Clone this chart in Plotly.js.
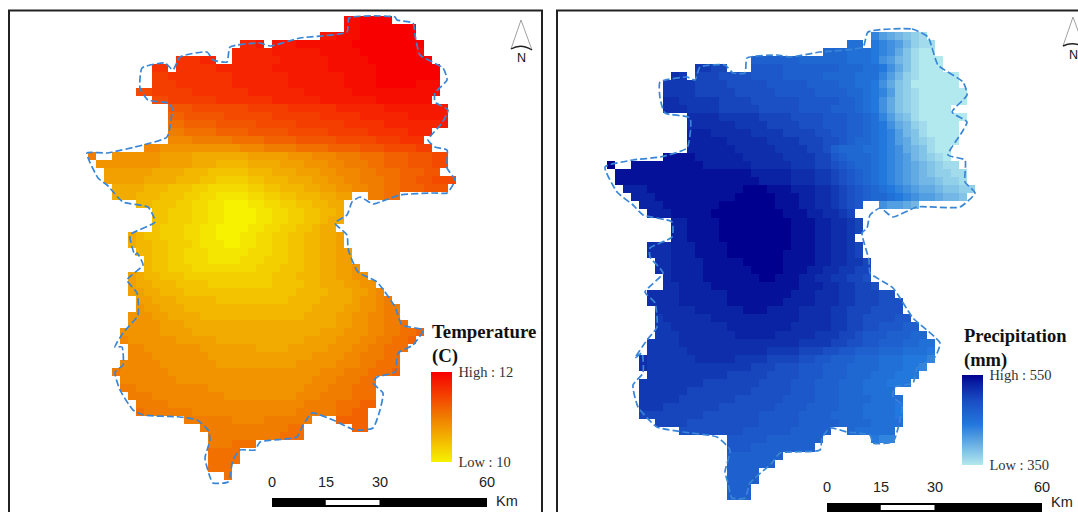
<!DOCTYPE html>
<html><head><meta charset="utf-8">
<script src="https://cdn.plot.ly/plotly-3.0.1.min.js"></script>
<style>html,body{margin:0;padding:0;background:#fff}#c{width:1078px;height:512px}</style>
</head><body><div id="c"></div>
<script>
// Raster cells: letter a..u = level 0..20 ; '.' = no data. Each row begins at column rowStart.
const tempStart=[32,32,29,19,18,11,8,8,8,6,8,10,10,10,10,10,7,0,1,2,2,3,3,6,8,8,8,5,5,6,7,7,5,5,5,6,6,5,5,4,4,5,5,4,3,4,4,5,6,6,12,14,15,15,15,15,15,17];
const tempRows=[
"ttuuuu","ttuuuuuuu","sstttuuuuuuu","rrs.ssstttttttuuuuuuuuu","rrrrrsssssstttttuuuuuuut",
"qqqrr..rrrrrrsssssstttttuuuuuuuu","qq.qqqqqrrrrrrrsssssssttttttuuuuuuuu","ppqqqqqqqqrrrrrrrsssssssttttuuuuuuuu","pppqqqqqqqrrrrrrrsssssssttttuuuuuttt","oopppppqqqqqqqrrrrrrrssssssttttttttttt",
"ooppppppqqqqqqqrrrrrrsssssssttttttt","nnnooooooopppppqqqqqqrrrrrrssssssss","mmnnnnnooooooppppppqqqqqrrrrrrsssss","llmmmmnnnnnoooooppppppqqqqqrrrrrrrs","kkllllmmmmnnnnnooooopppppqqqqqrrr",
"jjjkkkkkllllmmmmnnnnnooooopppqqq","jjiiiiiiiiiijjjkkkkllllmmmmnnnoooopp","k..iiiiiihhhhggggggghhhhhiiijjjkkklllmmmnnnoo","iiiiiiiihhhhgggffffgggghhhiiijjkkkllmmmnnnoo","hhhhhhggggfffeeeeefffggghhhiijjjkklllmmmnn",
"hhhhhggggfffeeddddeefffggghhiijjkkkllmmnnooo","ggggfffeeeddcccccddeefffgghhiijjkkllmmmnnn","gggfffeeeddccbbbbccddeefffgghh..kkll","ffeeeddccbbaaabbccddeeffgg","eedddccbbaaaabbccddeeffg",
"eedddccbbaaaabbccddeefgg","edddccbbaaaabbccddeefgg","gfeedddccbbaaabbccddeeffggh","gffeedddcbbbaabbccddeeffggh","ffeeddcccbbbbbcccddeeffgghh",
"feeddcccbbbbcccdddeeffgghh","feedddccccccccdddeeeffgghhi","hgffeeedddddddddddeeefffgghhii","hggfffeeeeddddddddeeeeffggghhii","hhggfffeeeeeeeeeeeeeeffffggghhij",
"hhgggfffffeeeeeeeeeffffgggghiijk","ihhgggffffffffffffffffgggghhiijkk","iiihhggggfffffffffffffgggghhiijjkk","iiiihhhggggggggggggggggggghhiijjkkl","iiiiihhhhgggggggggggggggghhhiiijjkkllm",
"jiiiiiihhhhhggggggggggghhhhiiijjkkllm","jjiiiiiiihhhhhhhgggghhhhhiiijjkklll","jjjiiiiiiihhhhhhhhhhhhhiiiijjkkkll","jjjjjiiiiiiihhhhhhhhhhiiiiijjjkklll","kjjjjjjiiiiiiiiiiiiiiiiiiijjjkkklllm",
"jjjjjjjiiiiiiiiiiiiiiiiijjjkkkll","kkjjjjjjjjjiiiiiiiiiiiijjjkkklll","kkkjjjjjjjjjiiiiiiiiijjjkkkklll","kkkkjjjjjjjjjjjjjjjjjkkkklllmm","lkkkkkkjjjjjjjjjjjjjkkkkkllmm",
"kkkkkkjjjjkkkkkk...mmmm","kkkkkkkkkkkll......mm","kkkkkkkkklll","kkklll","llll","llll","lll","l"];
const tempLevels={base:10,step:0.1};

const precStart=[33,30,27,18,11,8,7,7,7,7,10,10,10,10,10,7,0,1,1,2,3,4,5,8,8,8,5,5,6,6,7,7,5,5,6,6,6,6,5,5,4,4,5,4,4,4,4,4,6,9,15,15,15,15,15,15,15,15];
const precRows=[
"igfedcb","kk.jihgecbb","lllkkkjihfdbaa","mmmmmmllllllkkkjhgedbaaa","qqpp...nnnnmmmmmmmlllkkjhfdbaaa",
"rq.pppoooonnnnmmmmmllllkkkigecbaaaaa","qqqqppppooooonnnnnmmmmllkkjhfdcaaaaaa","qqqqpppppooooonnnnnmmmmllkjigdcbaaaaaa","rrqqqqqppppoooooonnnnnmmlkjhfdcbaaaaaa","rrrqqqqpppppooooonnnnmmmlkjhfdcbaaaa",
"rrrrqqqqqppppoooonnnmmlkigedbaaaaaa","rrrrrrqqqqppppooonnnmmlkjhfecbaaaa","sssrrrrrqqqqppppoonnmmlkjigedbaaaa","sssssrrrrrqqqqpppoonmllkjigfdcbaaa","ssssssrrrrrqqqqppomlllkkjihfedbaa",
"ttttssssssrrrrrqqqqppnmlllkjihgedcba","u..tttttttttssssssrrrrrqqqpponmllkjihgfedcbb","tttttttttttttttttsssssrrrqqponmlkjihgfedccbb","ttttttttttttttttttssssrrrqqponmlkjihgfeedccb","sssttttttttttttuuutttsssrrqponmlkjihgffeddcc",
"sssttttttttttuuuuutttssrrqponmllkjihggfeed","ssstttttttuuuuuuutttssrrqpon..hggfe","ssstttttuuuuuuuuutttssrrqp","ssttttuuuuuuuuutttssrrqp","ssttttuuuuuuuuutttssrrqp",
"ssttttuuuuuuuuutttssrrq","rrrsssttttuuuuuuuutttssrrqp","rrrsssttttuuuuuuuttttssrrqp","rrsssstttttuuuuuttttssrrqqp","rrssssttttttuuuutttssrrqqpp",
"rsssstttttttuutttssrrqqppo","rrsssstttttttttttsssrrqqppo","rrrrssssssttttttttsssrrrqqpppoo","rrrrsssssstttttttssssrrrqqpppooo","rrrrrsssssstttssssrrrrqqpppoooo",
"qrrrrrrsssssssssssrrrrqqppoooonn","qqrrrrrrrssssssssrrrrrqqppoonnnmm","qqqrrrrrrrsssssrrrrrqqqpponnnmmmll","qqqqrrrrrrrrrrrrrrrqqqqppoonnmmmllkk","qqqqqrrrrrrrrrrqqqqpppoonnmmmlllkkkj",
"rqqqqqqrrrrrqqqqppppoonnmmmlllkkkjjji","rqqqqqqqqqqqqqpppooonnnmmmllllkkkjji","qqqqqqqqqqpppppoooonnnmmmlllkkkjjj","qqqqqqqqpppppppoooonnnmmmlllkkkjjj","qqqqqqppppppppooooonnnmmmlllkkkk",
"qqqqqpppppppoooooonnnnmmmllllkkkk","qqqpppppppooooooonnnnmmmmlllkkkkj","ppppppppooooooonnnnnmmmmllllkkkkj","ppppooooooooonnnnnmmmmmllllkkkk","oooooooonnnnnnmmmmm..lkkkkk",
"nnnnnmmmmmmm......jii","nnnmmmmmmmm","mmmmmmm","mmmmmm","mmmm","mmmm","mmm","mmm"];
const precLevels={base:350,step:10};

const outlineTempX=[349,395,397,413,415,420,443,447,435,435,448,442,428,435,447,447,455,447,433,400,380,373,360,352,347,335,347,348,350,358,377,395,402,423,413,398,395,377,373,383,380,373,355,333,312,302,297,260,255,240,233,228,213,210,205,210,208,197,180,143,133,120,115,123,122,115,123,138,137,127,143,137,135,130,155,148,123,107,98,87,107,143,167,172,168,148,140,142,165,173,180,207,213,227,230,260,270,300,347,349];
const outlineTempY=[18,17,20,23,35,55,68,80,93,102,110,123,140,147,150,168,180,193,193,195,202,204,197,202,215,223,235,248,255,272,282,307,325,330,345,353,372,377,383,393,410,428,430,420,413,427,437,442,450,450,460,482,483,477,458,440,430,420,417,415,410,390,372,365,347,347,333,315,293,280,265,253,255,235,222,207,202,185,178,153,153,145,137,108,103,100,88,68,63,70,57,52,60,62,47,43,46,38,32,18];
const outlinePrecX=[868,912,928,938,963,967,952,967,962,948,965,965,975,960,917,893,880,870,867,862,869,870,893,913,940,935,917,913,895,893,902,897,893,873,870,847,830,822,820,780,772,750,745,732,728,725,730,717,683,657,638,633,643,642,635,647,657,655,645,663,650,650,672,672,643,633,617,605,633,660,687,690,665,660,660,687,695,700,725,733,745,747,777,790,820,863,868];
const outlinePrecY=[32,29,37,65,82,95,112,122,132,155,160,182,193,207,207,217,208,215,228,233,260,273,288,318,343,357,368,383,387,397,405,432,442,443,435,432,428,438,450,453,463,483,498,498,483,472,450,437,432,427,407,385,373,353,358,340,327,303,292,273,257,248,237,222,215,205,192,167,160,157,148,118,113,98,82,77,80,67,65,73,73,58,55,57,52,47,32];

const tempTitle="Temperature<br>(C)", precTitle="Precipitation<br>(mm)";
const tempBarLabels=["Low : 10","High : 12"], precBarLabels=["Low : 350","High : 550"];
const scaleLabels=["0","15","30","60"], scaleKm=[0,15,30,60];

function decode(rows,starts,lv){
  const nc=46;
  return rows.map((r,i)=>{
    const a=new Array(nc).fill(null);
    for(let k=0;k<r.length;k++){const ch=r[k];if(ch!=='.'){const c=starts[i]+k;if(c<nc)a[c]=lv.base+lv.step*(ch.charCodeAt(0)-97);}}
    return a;
  });
}
const serif="Liberation Serif", sans="Liberation Sans";
function bar(x,top,len,thick){return {thicknessmode:'pixels',thickness:thick,lenmode:'pixels',len:len,x:x/1078,xanchor:'left',y:1-top/512,yanchor:'top',xpad:0,ypad:0,outlinewidth:0,ticks:'outside',ticklen:4,tickwidth:1,tickcolor:'rgba(0,0,0,0)',tickfont:{family:serif,size:14.5,color:'#333'}};}

const traces=[
 {type:'heatmap',z:decode(tempRows,tempStart,tempLevels),x0:92,dx:8,y0:20,dy:8,zmin:10,zmax:12,
  colorscale:[[0,'#f6f200'],[0.5,'#f07c00'],[1,'#f80000']],hoverongaps:false,
  colorbar:Object.assign(bar(431,372,90,21),{tickvals:[10,12],ticktext:tempBarLabels})},
 {type:'heatmap',z:decode(precRows,precStart,precLevels),x0:611,dx:8,y0:36,dy:8.07,zmin:350,zmax:550,
  colorscale:[[0,'#b2e9ee'],[0.45,'#2278dc'],[0.7,'#1a50c4'],[0.9,'#0a22a4'],[1,'#00008e']],hoverongaps:false,
  colorbar:Object.assign(bar(962,375,90,21),{tickvals:[350,550],ticktext:precBarLabels})},
 {type:'scatter',mode:'lines',x:outlineTempX,y:outlineTempY,line:{color:'#3a86d6',width:1.7,dash:'7px,3px',shape:'spline',smoothing:0.5},showlegend:false,hoverinfo:'skip'},
 {type:'scatter',mode:'lines',x:outlinePrecX,y:outlinePrecY,line:{color:'#3a86d6',width:1.7,dash:'7px,3px',shape:'spline',smoothing:0.5},showlegend:false,hoverinfo:'skip'}
];
function scaleShapes(x0,y0,y1,pxPerKm){
  const f=k=>x0+k*pxPerKm;
  return [
   {type:'rect',x0:f(0),x1:f(60),y0:y0,y1:y1,fillcolor:'#000',line:{width:0},layer:'above'},
   {type:'rect',x0:f(15),x1:f(30),y0:y0+2,y1:y1-2,fillcolor:'#fff',line:{width:0},layer:'above'}];
}
function scaleText(x0,y,pxPerKm,kmX,kmY){
  const out=scaleKm.map((k,i)=>({x:x0+k*pxPerKm,y:y,text:scaleLabels[i],showarrow:false,xanchor:'center',yanchor:'middle',font:{family:sans,size:14.5,color:'#222'}}));
  out.push({x:kmX,y:kmY,text:'Km',showarrow:false,xanchor:'left',yanchor:'middle',font:{family:sans,size:14.5,color:'#222'}});
  return out;
}
function arrow(ax,ay,lx,ly,rx,ry,mx,my){
  return [{type:'path',path:`M ${lx} ${ly} L ${ax} ${ay} L ${rx} ${ry}`,line:{color:'#888',width:0.8},layer:'above'},
          {type:'path',path:`M ${lx} ${ly} Q ${mx} ${my-3} ${rx} ${ry}`,line:{color:'#222',width:1.4},layer:'above'}];
}
const layout={
 width:1078,height:512,margin:{l:0,r:0,t:0,b:0},paper_bgcolor:'#fff',plot_bgcolor:'#fff',showlegend:false,
 xaxis:{range:[0,1078],visible:false,fixedrange:true},
 yaxis:{range:[512,0],visible:false,fixedrange:true},
 shapes:[
  {type:'rect',x0:9,x1:542,y0:10.5,y1:520,line:{color:'#222',width:2},layer:'above'},
  {type:'rect',x0:557,x1:1090,y0:10.5,y1:520,line:{color:'#222',width:2},layer:'above'},
  ...scaleShapes(272,498,507,215/60),
  ...scaleShapes(827,503,512,215/60),
  ...arrow(521,20,511,49,532,50,521,46),
  ...arrow(1073,17,1063,46,1084,47,1073,44)
 ],
 annotations:[
  {x:430,y:344,text:'<b>'+tempTitle+'</b>',showarrow:false,xanchor:'left',yanchor:'middle',align:'left',font:{family:serif,size:18.8,color:'#111'}},
  {x:962,y:348,text:'<b>'+precTitle+'</b>',showarrow:false,xanchor:'left',yanchor:'middle',align:'left',font:{family:serif,size:18.5,color:'#111'}},
  {x:521,y:58,text:'N',showarrow:false,font:{family:sans,size:12.5,color:'#111'}},
  {x:1073,y:55,text:'N',showarrow:false,font:{family:sans,size:12.5,color:'#111'}},
  ...scaleText(272,482,215/60,494,501),
  ...scaleText(827,487,215/60,1049,502)
 ]
};
Plotly.newPlot('c',traces,layout,{displayModeBar:false,staticPlot:true});
</script></body></html>
